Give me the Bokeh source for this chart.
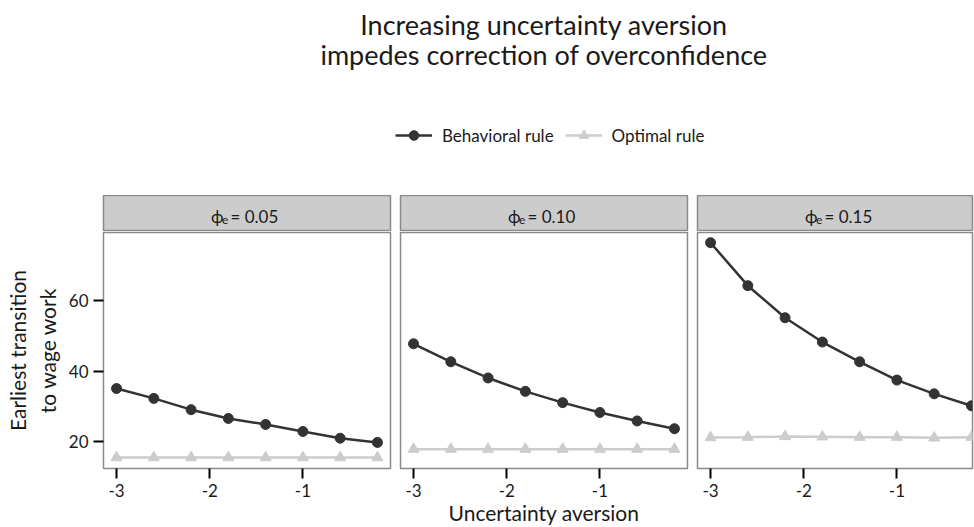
from bokeh.plotting import figure
from bokeh.models import Range1d, FixedTicker, Label, Legend, LegendItem
from bokeh.layouts import row, column
from bokeh.embed import file_html
from bokeh.resources import INLINE

# ---------------- data ----------------
aversion = [-3.0, -2.6, -2.2, -1.8, -1.4, -1.0, -0.6, -0.2]
behavioral_005 = [35.1, 32.3, 29.1, 26.6, 24.9, 22.9, 21.0, 19.8]
optimal_005 = [15.5, 15.5, 15.5, 15.5, 15.5, 15.5, 15.5, 15.5]
behavioral_010 = [47.8, 42.7, 38.1, 34.3, 31.1, 28.3, 25.9, 23.7]
optimal_010 = [17.9, 17.9, 17.9, 17.9, 17.9, 17.9, 17.9, 17.9]
behavioral_015 = [76.5, 64.3, 55.2, 48.3, 42.7, 37.5, 33.6, 30.2]
optimal_015 = [21.2, 21.3, 21.5, 21.4, 21.3, 21.3, 21.1, 21.3]

# strip labels: symbol, subscript, value part  ->  "ϕ_e = 0.05" etc.
panel_symbol = "ϕ"
panel_subscript = "e"
panel_values = ["= 0.05", "= 0.10", "= 0.15"]
series_labels = ["Behavioral rule", "Optimal rule"]
x_ticks = [-3, -2, -1]
x_tick_labels = ["-3", "-2", "-1"]
y_ticks = [20, 40, 60]
y_tick_labels = ["20", "40", "60"]
title_lines = ["Increasing uncertainty aversion", "impedes correction of overconfidence"]
x_title = "Uncertainty aversion"
y_title = "Earliest transition\nto wage work"

# ---------------- style ----------------
FONT = "Lato"
DARK = "#333333"
LIGHT = "#CCCCCC"
BORDER = "#8A8A8A"
TEXT = "#1A1A1A"

X_START, X_END = -3.14, -0.06
Y_START, Y_END = 12.4, 79.4
FRAME_W = 287
FRAME_W3 = 275
FRAME_H = 236
TOP_B = 1
BOT_B = 59
STRIP_H = 36
HEADER_H = 195
TOTAL_W = 974

# ---------------- header (title + legend) ----------------
header = figure(width=TOTAL_W, height=HEADER_H, x_range=Range1d(0, 1), y_range=Range1d(0, 1),
                x_axis_type=None, y_axis_type=None, toolbar_location=None,
                output_backend="svg", min_border=0, outline_line_color=None)
header.grid.visible = False
header.add_layout(Label(x=543.5, y=HEADER_H - 24, x_units="screen", y_units="screen",
                        text=title_lines[0], text_align="center", text_baseline="alphabetic",
                        text_font=FONT, text_font_size="27px", text_color=TEXT))
header.add_layout(Label(x=543.5, y=HEADER_H - 54, x_units="screen", y_units="screen",
                        text=title_lines[1], text_align="center", text_baseline="alphabetic",
                        text_font=FONT, text_font_size="27px", text_color=TEXT))

hl1 = header.line(aversion, behavioral_005, line_color=DARK, line_width=2.5, visible=False)
hs1 = header.scatter(aversion, behavioral_005, size=10, color=DARK, visible=False)
hl2 = header.line(aversion, optimal_005, line_color=LIGHT, line_width=2.5, visible=False)
hs2 = header.scatter(aversion, optimal_005, marker="triangle", size=11, color=LIGHT, visible=False)
legend = Legend(items=[LegendItem(label=series_labels[0], renderers=[hl1, hs1]),
                       LegendItem(label=series_labels[1], renderers=[hl2, hs2])],
                location=(395, HEADER_H - 135 - 12), orientation="horizontal",
                padding=0, margin=0, spacing=11, label_standoff=10,
                glyph_width=37, glyph_height=24, label_height=24,
                border_line_color=None, background_fill_alpha=0, inactive_fill_alpha=0,
                label_text_font=FONT, label_text_font_size="17px", label_text_color=TEXT)
header.add_layout(legend, "center")


def make_strip(value_text, left, right, frame_w):
    s = figure(width=left + frame_w + right, height=STRIP_H,
               x_range=Range1d(0, 1), y_range=Range1d(0, 1),
               x_axis_type=None, y_axis_type=None, toolbar_location=None,
               output_backend="svg", min_border_left=left, min_border_right=right,
               min_border_top=0, min_border_bottom=0,
               background_fill_color=LIGHT, border_fill_color="white",
               outline_line_color=BORDER, outline_line_width=1.5)
    s.grid.visible = False
    common = dict(x_units="screen", y_units="screen", text_align="left",
                  text_baseline="alphabetic", text_font=FONT, text_color=TEXT)
    s.add_layout(Label(x=107.5, y=14.7, text=panel_symbol, text_font_size="17px", **common))
    s.add_layout(Label(x=118.5, y=12, text=panel_subscript, text_font_size="12px", **common))
    s.add_layout(Label(x=127, y=14.7, text=value_text, text_font_size="17px", **common))
    return s


def make_panel(beh, opt, left, right, frame_w, show_y, xlabel):
    x_end = X_START + (X_END - X_START) * frame_w / FRAME_W
    p = figure(width=left + frame_w + right, height=TOP_B + FRAME_H + BOT_B,
               x_range=Range1d(X_START, x_end), y_range=Range1d(Y_START, Y_END),
               y_axis_location="left" if show_y else None,
               toolbar_location=None, output_backend="svg",
               min_border_left=left, min_border_right=right,
               min_border_top=TOP_B, min_border_bottom=BOT_B,
               outline_line_color=BORDER, outline_line_width=1.5)
    p.grid.visible = False
    p.line(aversion, opt, line_color=LIGHT, line_width=2.5)
    p.scatter(aversion, opt, marker="triangle", size=11, color=LIGHT)
    p.line(aversion, beh, line_color=DARK, line_width=2.5)
    p.scatter(aversion, beh, size=10, color=DARK)

    axes = [p.xaxis[0]] + ([p.yaxis[0]] if show_y else [])
    for ax in axes:
        ax.axis_line_color = None
        ax.major_tick_line_color = "black"
        ax.major_tick_line_width = 2
        ax.major_tick_out = 10
        ax.major_tick_in = 0
        ax.minor_tick_line_color = None
        ax.major_label_text_font = FONT
        ax.major_label_text_font_size = "17px"
        ax.major_label_text_color = TEXT
        ax.axis_label_text_font = FONT
        ax.axis_label_text_font_size = "21px"
        ax.axis_label_text_font_style = "normal"
        ax.axis_label_text_color = TEXT
    p.xaxis.ticker = FixedTicker(ticks=x_ticks)
    p.xaxis.major_label_overrides = dict(zip(x_ticks, x_tick_labels))
    p.xaxis.major_label_standoff = 5
    if xlabel:
        p.xaxis.axis_label = xlabel
        p.xaxis.axis_label_standoff = 0
    if show_y:
        p.yaxis.ticker = FixedTicker(ticks=y_ticks)
        p.yaxis.major_label_overrides = dict(zip(y_ticks, y_tick_labels))
        p.yaxis.major_label_standoff = 5
        p.yaxis.axis_label = y_title
        p.yaxis.axis_label_standoff = 6
    return p


s1 = make_strip(panel_values[0], 103, 5, FRAME_W)
s2 = make_strip(panel_values[1], 5, 5, FRAME_W)
s3 = make_strip(panel_values[2], 5, 2, FRAME_W3)
p1 = make_panel(behavioral_005, optimal_005, 103, 5, FRAME_W, True, None)
p2 = make_panel(behavioral_010, optimal_010, 5, 5, FRAME_W, False, x_title)
p3 = make_panel(behavioral_015, optimal_015, 5, 2, FRAME_W3, False, None)

layout = column(header, row(column(s1, p1), column(s2, p2), column(s3, p3)))

open("out.html", "w").write(file_html(layout, INLINE))
